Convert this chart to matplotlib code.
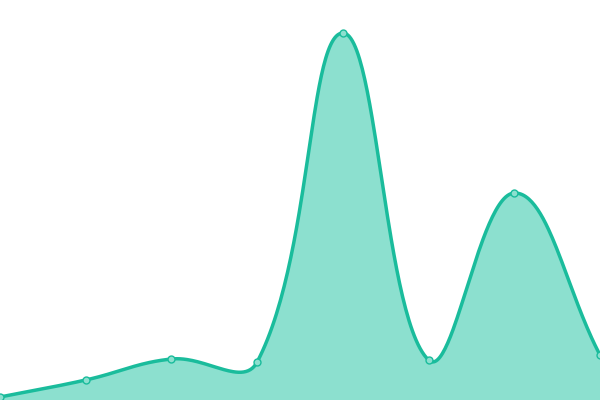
import numpy as np
import matplotlib.pyplot as plt

labels = ['1', '2', '3', '4', '5', '6', '7', '8']
values = [3, 20, 41, 38, 367, 40, 207, 45]

line_color = '#1abc9c'
fill_color = '#8ce0cf'
tension = 0.4

fig = plt.figure(figsize=(6, 4), dpi=100)
ax = fig.add_axes([0, 0, 1, 1])
ax.set_xlim(0, len(values) - 1)
ax.set_ylim(0, 400)
ax.axis('off')

xs = np.arange(len(values))
pts = ax.transData.transform(np.column_stack([xs, values]))

# spline control points (chart.js style), worked out in pixel space
n = len(pts)
cps = []
for i in range(n):
    prev = pts[max(i - 1, 0)]
    cur = pts[i]
    nxt = pts[min(i + 1, n - 1)]
    d01 = np.hypot(*(cur - prev))
    d12 = np.hypot(*(nxt - cur))
    tot = d01 + d12
    s01 = d01 / tot if tot else 0
    s12 = d12 / tot if tot else 0
    cp_prev = cur - tension * s01 * (nxt - prev)
    cp_next = cur + tension * s12 * (nxt - prev)
    cps.append((cp_prev, cp_next))

t = np.linspace(0, 1, 60)[:, None]
curve = []
for i in range(n - 1):
    p0 = pts[i]
    p1 = cps[i][1]
    p2 = cps[i + 1][0]
    p3 = pts[i + 1]
    seg = ((1 - t) ** 3) * p0 + 3 * ((1 - t) ** 2) * t * p1 + 3 * (1 - t) * t ** 2 * p2 + t ** 3 * p3
    curve.append(seg if i == 0 else seg[1:])
curve = np.vstack(curve)
cx, cy = ax.transData.inverted().transform(curve).T

ax.fill_between(cx, cy, 0, color=fill_color, lw=0)
ax.plot(cx, cy, color=line_color, lw=2.5, solid_capstyle='round', clip_on=False)
ax.plot(xs, values, 'o', ms=5, mfc=fill_color, mec=line_color, mew=1, clip_on=False)

fig.savefig('out.png', dpi=100)
